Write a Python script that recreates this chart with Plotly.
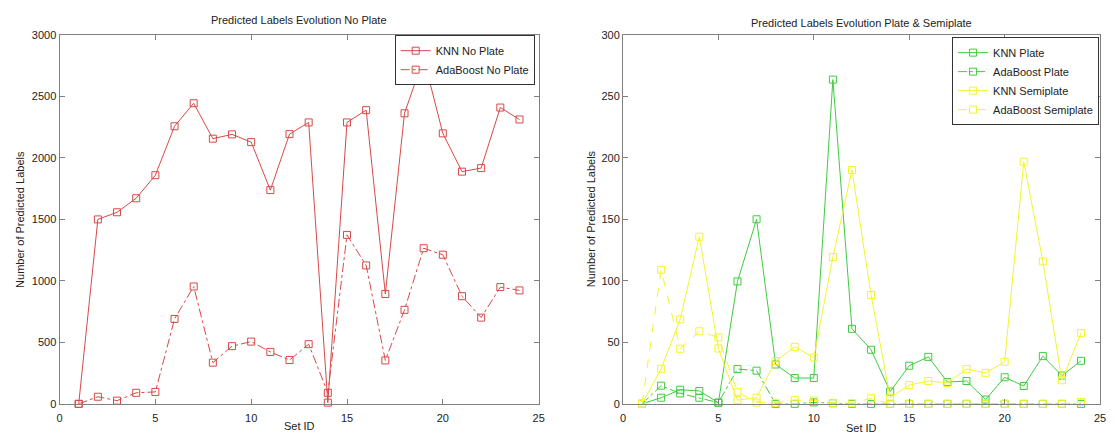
import plotly.graph_objects as go

set_ids = list(range(1, 25))

knn_no_plate = [0, 1499, 1557, 1671, 1858, 2256, 2443, 2155, 2190, 2127, 1737, 2192,
                2287, 10, 2287, 2387, 893, 2361, 2810, 2198, 1887, 1916, 2408, 2311]
ada_no_plate = [0, 58, 26, 90, 97, 690, 954, 335, 469, 506, 422, 356,
                485, 90, 1373, 1125, 353, 764, 1265, 1212, 875, 701, 949, 922]

knn_plate = [0, 5, 11.5, 10.5, 1, 99.5, 150, 32, 21, 21, 263.5, 61,
             44, 10, 31, 38.2, 17.7, 18.6, 3.5, 21.6, 14.5, 38.8, 23, 35]
ada_plate = [0, 14.8, 8.5, 5, 1, 28.3, 27, 0, 0, 1.2, 0.5, 0,
             0, 0, 0, 0, 0, 0, 0, 0, 0, 0, 0, 0]
knn_semiplate = [0, 28.5, 68.7, 135.8, 45, 3, 5, 34.8, 46.3, 37.6, 119.3, 190,
                 88.5, 5, 15.2, 18.6, 17, 28.2, 25.2, 34.2, 196.8, 115.8, 19.2, 57.5]
ada_semiplate = [0, 109, 44.8, 59, 54, 9.8, 1, 0.8, 3, 2.8, 0.8, 0.5,
                 4.6, 0, 0, 0, 0, 0, 0, 0, 0, 0, 0, 1.5]

left_title = "Predicted Labels Evolution No Plate"
right_title = "Predicted Labels Evolution Plate &amp; Semiplate"
x_label = "Set ID"
y_label = "Number of Predicted Labels"

RED = "#d94848"
GREEN = "#3fcc3f"
YELLOW = "#f4f42c"
FONT = "Liberation Sans, Arial, sans-serif"
TXT = "#222222"
AX = "#808080"

fig = go.Figure()


def add(y, name, color, dash, xa, ya, legend):
    fig.add_trace(go.Scatter(
        x=set_ids, y=y, name=name, mode="lines+markers",
        line=dict(color=color, width=1, dash=dash),
        marker=dict(symbol="square-open", size=7, color=color, line=dict(width=1, color=color)),
        xaxis=xa, yaxis=ya, legend=legend, cliponaxis=False,
    ))


add(knn_no_plate, "KNN No Plate", RED, "solid", "x", "y", "legend")
add(ada_no_plate, "AdaBoost No Plate", RED, "dashdot", "x", "y", "legend")
add(knn_plate, "KNN Plate", GREEN, "solid", "x2", "y2", "legend2")
add(ada_plate, "AdaBoost Plate", GREEN, "dashdot", "x2", "y2", "legend2")
add(knn_semiplate, "KNN Semiplate", YELLOW, "solid", "x2", "y2", "legend2")
add(ada_semiplate, "AdaBoost Semiplate", YELLOW, "dash", "x2", "y2", "legend2")

W, H = 1116, 441
ydom = [1 - 409 / H, 1 - 29.5 / H]

axis_common = dict(
    showline=True, linecolor=AX, linewidth=1, mirror="ticks",
    ticks="inside", ticklen=5, tickcolor=AX, tickwidth=1,
    showgrid=False, zeroline=False,
    tickfont=dict(family=FONT, size=11, color=TXT),
)

legend_common = dict(
    bgcolor="white", bordercolor="#333333", borderwidth=1,
    font=dict(family=FONT, size=11, color=TXT),
    xanchor="right", yanchor="top", xref="paper", yref="paper",
    tracegroupgap=0, itemwidth=30,
)

fig.update_layout(
    width=W, height=H,
    margin=dict(l=0, r=0, t=0, b=0),
    paper_bgcolor="white", plot_bgcolor="white",
    font=dict(family=FONT, size=11, color=TXT),
    xaxis=dict(domain=[57 / W, 540 / W], range=[0, 25], dtick=5, anchor="y",
               ticklabelstandoff=4, **axis_common),
    yaxis=dict(domain=ydom, range=[0, 3000], dtick=500, anchor="x", **axis_common),
    xaxis2=dict(domain=[625 / W, 1106 / W], range=[0, 25], dtick=5, anchor="y2",
                ticklabelstandoff=4, **axis_common),
    yaxis2=dict(domain=ydom, range=[0, 300], dtick=50, anchor="x2", **axis_common),
    legend=dict(x=536 / W, y=1 - 30 / H, **legend_common),
    legend2=dict(x=1105 / W, y=1 - 32 / H, **legend_common),
    showlegend=True,
)

ann = dict(xref="paper", yref="paper", showarrow=False,
           font=dict(family=FONT, size=11, color=TXT))
fig.add_annotation(text=left_title, x=298.5 / W, y=1 - 14 / H, xanchor="center", yanchor="middle", **ann)
fig.add_annotation(text=right_title, x=865.5 / W, y=1 - 17 / H, xanchor="center", yanchor="middle", **ann)
fig.add_annotation(text=x_label, x=298.5 / W, y=1 - 432 / H, xanchor="center", yanchor="middle", **ann)
fig.add_annotation(text=x_label, x=865.5 / W, y=1 - 434 / H, xanchor="center", yanchor="middle", **ann)
fig.add_annotation(text=y_label, x=17 / W, y=1 - 219 / H, textangle=-90, xanchor="center", yanchor="middle", **ann)
fig.add_annotation(text=y_label, x=593 / W, y=1 - 219 / H, textangle=-90, xanchor="center", yanchor="middle", **ann)

fig.write_html("out.html")
